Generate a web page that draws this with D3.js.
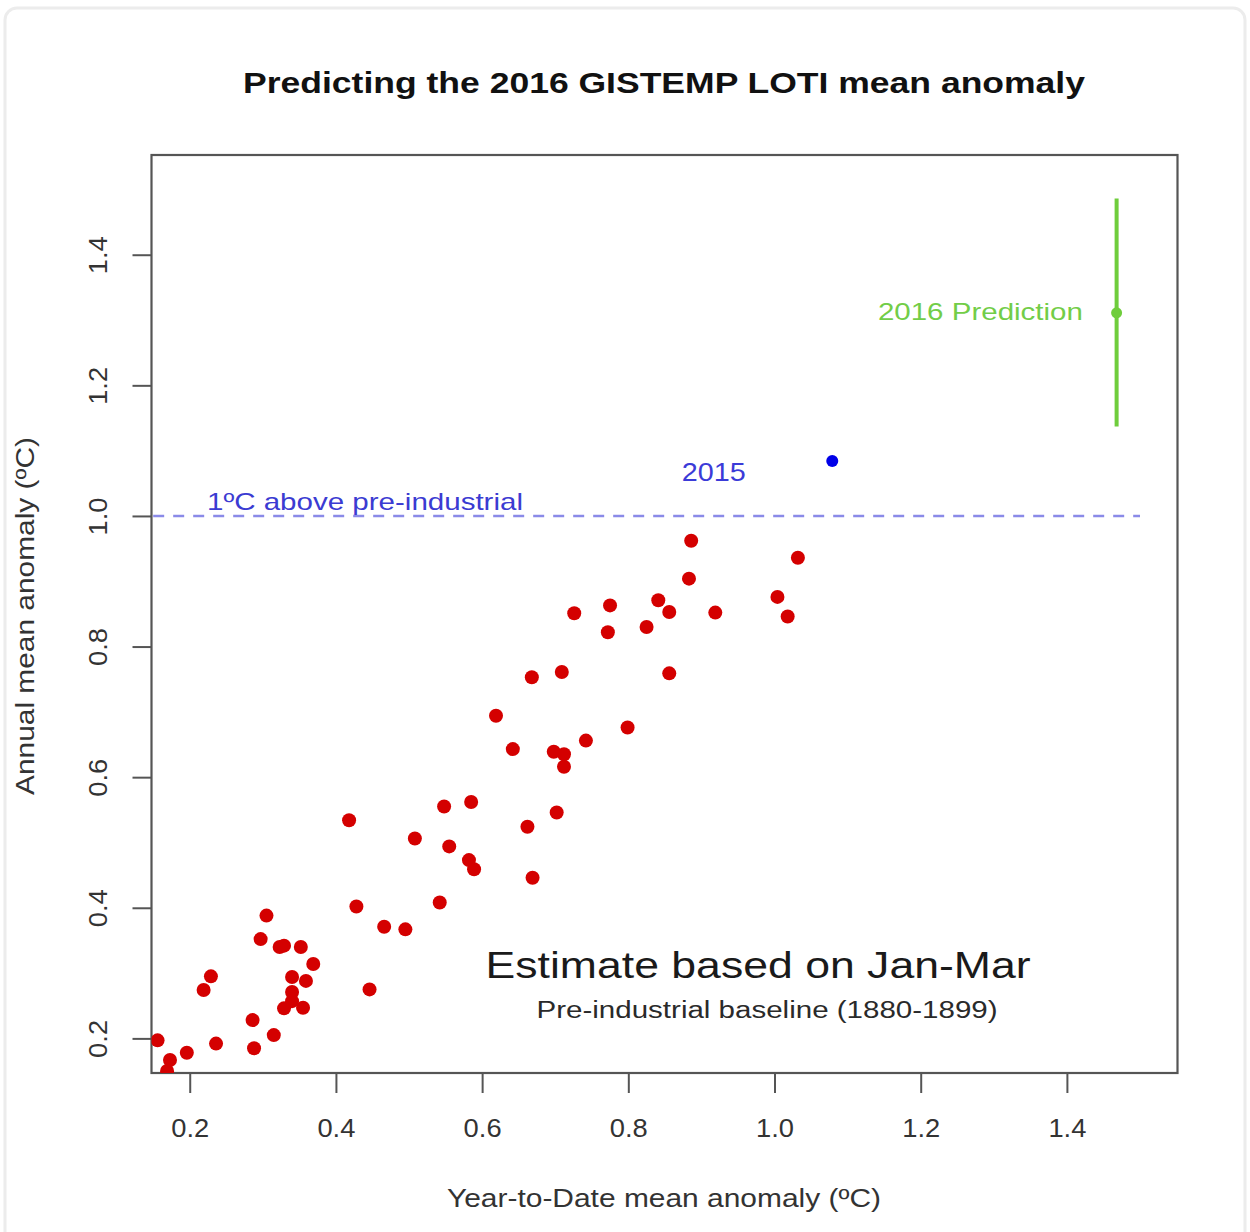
<!DOCTYPE html>
<html>
<head>
<meta charset="utf-8">
<script src="https://cdn.jsdelivr.net/npm/d3@7"></script>
<style>
  body { margin: 0; background: #fff; }
  text { font-family: "Liberation Sans", Arial, Helvetica, sans-serif; }
</style>
</head>
<body>
<div id="chart"></div>
<script>
// year-to-date (Jan-Mar) anomaly vs annual anomaly, one point per year
var ytdAnomaly = [0.156, 0.173, 0.169, 0.196, 0.236, 0.219, 0.229, 0.286, 0.288, 0.315,
                  0.305, 0.297, 0.323, 0.329, 0.352, 0.369, 0.340, 0.359, 0.340, 0.329,
                  0.355, 0.340, 0.418, 0.428, 0.466, 0.495, 0.446, 0.508, 0.548, 0.585,
                  0.555, 0.582, 0.589, 0.542, 0.619, 0.642, 0.698, 0.712, 0.712, 0.742,
                  0.799, 0.702, 0.662, 0.669, 0.668, 0.886, 0.883, 1.032, 1.004, 1.018,
                  0.841, 0.856, 0.919, 0.775, 0.772, 0.726, 0.825, 0.709, 0.856];
var annualAnomaly = [0.197, 0.167, 0.150, 0.178, 0.192, 0.274, 0.295, 0.228, 0.185, 0.205,
                     0.388, 0.352, 0.340, 0.342, 0.340, 0.314, 0.294, 0.288, 0.271, 0.246,
                     0.247, 0.257, 0.534, 0.402, 0.371, 0.367, 0.275, 0.506, 0.555, 0.562,
                     0.494, 0.473, 0.459, 0.408, 0.694, 0.643, 0.639, 0.635, 0.616, 0.656,
                     0.676, 0.546, 0.524, 0.446, 0.753, 0.962, 0.904, 0.936, 0.876, 0.846,
                     0.871, 0.853, 0.852, 0.863, 0.822, 0.851, 0.830, 0.761, 0.759];

var year2015 = [1.079, 1.084];          // [ytd, annual]
var pred2016 = [1.468, 1.311];          // [ytd, predicted annual]
var pred2016Range = [1.137, 1.486];     // [low, high]
var baseline = 1.0;                     // 1 degree above pre-industrial

var xTicks = [0.2, 0.4, 0.6, 0.8, 1.0, 1.2, 1.4];
var yTicks = [0.2, 0.4, 0.6, 0.8, 1.0, 1.2, 1.4];

var w = 1250, h = 1232;
var plotL = 151.5, plotR = 1177.5, plotT = 155, plotB = 1073;

var svg = d3.select("#chart").append("svg")
    .attr("width", w)
    .attr("height", h);

// faint outer card
svg.append("rect")
    .attr("x", 5).attr("y", 8)
    .attr("width", 1240).attr("height", 1240)
    .attr("rx", 12)
    .attr("fill", "#fff")
    .attr("stroke", "#ececec")
    .attr("stroke-width", 3);

var x = d3.scaleLinear().domain([0.1477, 1.5513]).range([plotL, plotR]);
var y = d3.scaleLinear().domain([0.147, 1.5527]).range([plotB, plotT]);

svg.append("defs").append("clipPath").attr("id", "plotclip")
    .append("rect")
    .attr("x", plotL).attr("y", plotT)
    .attr("width", plotR - plotL).attr("height", plotB - plotT);

// axes
var xAxis = d3.axisBottom(x).tickValues(xTicks).tickFormat(d3.format(".1f")).tickSize(20).tickSizeOuter(0);
var yAxis = d3.axisLeft(y).tickValues(yTicks).tickFormat(d3.format(".1f")).tickSize(19).tickSizeOuter(0);

var gx = svg.append("g").attr("transform", "translate(0," + plotB + ")").call(xAxis);
gx.select(".domain").remove();
gx.selectAll(".tick line").attr("stroke", "#555").attr("stroke-width", 2);
gx.selectAll(".tick text")
    .attr("y", 64).attr("dy", 0)
    .attr("fill", "#333")
    .style("font-size", "25px")
    .attr("textLength", 38).attr("lengthAdjust", "spacingAndGlyphs");

var gy = svg.append("g").attr("transform", "translate(" + plotL + ",0)").call(yAxis);
gy.select(".domain").remove();
gy.selectAll(".tick line").attr("stroke", "#555").attr("stroke-width", 2);
gy.selectAll(".tick text")
    .attr("x", 0).attr("dy", 0)
    .attr("transform", "translate(-45,0) rotate(-90)")
    .attr("text-anchor", "middle")
    .attr("fill", "#333")
    .style("font-size", "25px")
    .attr("textLength", 38).attr("lengthAdjust", "spacingAndGlyphs");

// frame
svg.append("rect")
    .attr("x", plotL).attr("y", plotT)
    .attr("width", plotR - plotL).attr("height", plotB - plotT)
    .attr("fill", "none")
    .attr("stroke", "#555")
    .attr("stroke-width", 2.2);

var plot = svg.append("g").attr("clip-path", "url(#plotclip)");

// 1 degree line
plot.append("line")
    .attr("x1", x(0.15)).attr("x2", x(1.5))
    .attr("y1", y(baseline)).attr("y2", y(baseline))
    .attr("stroke", "#8a8ae8")
    .attr("stroke-width", 2.5)
    .attr("stroke-dasharray", "11,9");

// past years
plot.selectAll("circle.yr")
    .data(ytdAnomaly)
    .enter()
    .append("circle")
    .attr("class", "yr")
    .attr("cx", function(d) { return x(d); })
    .attr("cy", function(d, i) { return y(annualAnomaly[i]); })
    .attr("r", 7)
    .attr("fill", "#d40000");

// 2015
plot.append("circle")
    .attr("cx", x(year2015[0])).attr("cy", y(year2015[1]))
    .attr("r", 6)
    .attr("fill", "#0000e8");

// 2016 prediction
plot.append("line")
    .attr("x1", x(pred2016[0])).attr("x2", x(pred2016[0]))
    .attr("y1", y(pred2016Range[0])).attr("y2", y(pred2016Range[1]))
    .attr("stroke", "#6fcd3c")
    .attr("stroke-width", 4);
plot.append("circle")
    .attr("cx", x(pred2016[0])).attr("cy", y(pred2016[1]))
    .attr("r", 5.5)
    .attr("fill", "#6fcd3c");

// annotations
svg.append("text")
    .attr("x", x(0.2236)).attr("y", y(1.009))
    .attr("fill", "#3b3bd2")
    .style("font-size", "24px")
    .attr("textLength", 316).attr("lengthAdjust", "spacingAndGlyphs")
    .text("1ºC above pre-industrial");

svg.append("text")
    .attr("x", x(0.917)).attr("y", y(1.0535))
    .attr("text-anchor", "middle")
    .attr("fill", "#3b3bd8")
    .style("font-size", "25px")
    .attr("textLength", 64).attr("lengthAdjust", "spacingAndGlyphs")
    .text("2015");

svg.append("text")
    .attr("x", x(1.4219)).attr("y", y(1.300))
    .attr("text-anchor", "end")
    .attr("fill", "#72cd48")
    .style("font-size", "24.5px")
    .attr("textLength", 205).attr("lengthAdjust", "spacingAndGlyphs")
    .text("2016 Prediction");

svg.append("text")
    .attr("x", x(0.9775)).attr("y", y(0.2925))
    .attr("text-anchor", "middle")
    .attr("fill", "#1a1a1a")
    .style("font-size", "37.5px")
    .attr("textLength", 545).attr("lengthAdjust", "spacingAndGlyphs")
    .text("Estimate based on Jan-Mar");

svg.append("text")
    .attr("x", x(0.9898)).attr("y", y(0.2312))
    .attr("text-anchor", "middle")
    .attr("fill", "#2a2a2a")
    .style("font-size", "23.5px")
    .attr("textLength", 461).attr("lengthAdjust", "spacingAndGlyphs")
    .text("Pre-industrial baseline (1880-1899)");

// titles
svg.append("text")
    .attr("x", 664).attr("y", 93)
    .attr("text-anchor", "middle")
    .attr("fill", "#111")
    .style("font-size", "30px")
    .style("font-weight", "bold")
    .attr("textLength", 842).attr("lengthAdjust", "spacingAndGlyphs")
    .text("Predicting the 2016 GISTEMP LOTI mean anomaly");

svg.append("text")
    .attr("x", 664).attr("y", 1207)
    .attr("text-anchor", "middle")
    .attr("fill", "#333")
    .style("font-size", "25px")
    .attr("textLength", 434).attr("lengthAdjust", "spacingAndGlyphs")
    .text("Year-to-Date mean anomaly (ºC)");

svg.append("text")
    .attr("transform", "translate(34,616) rotate(-90)")
    .attr("text-anchor", "middle")
    .attr("fill", "#333")
    .style("font-size", "25px")
    .attr("textLength", 358).attr("lengthAdjust", "spacingAndGlyphs")
    .text("Annual mean anomaly (ºC)");
</script>
</body>
</html>
